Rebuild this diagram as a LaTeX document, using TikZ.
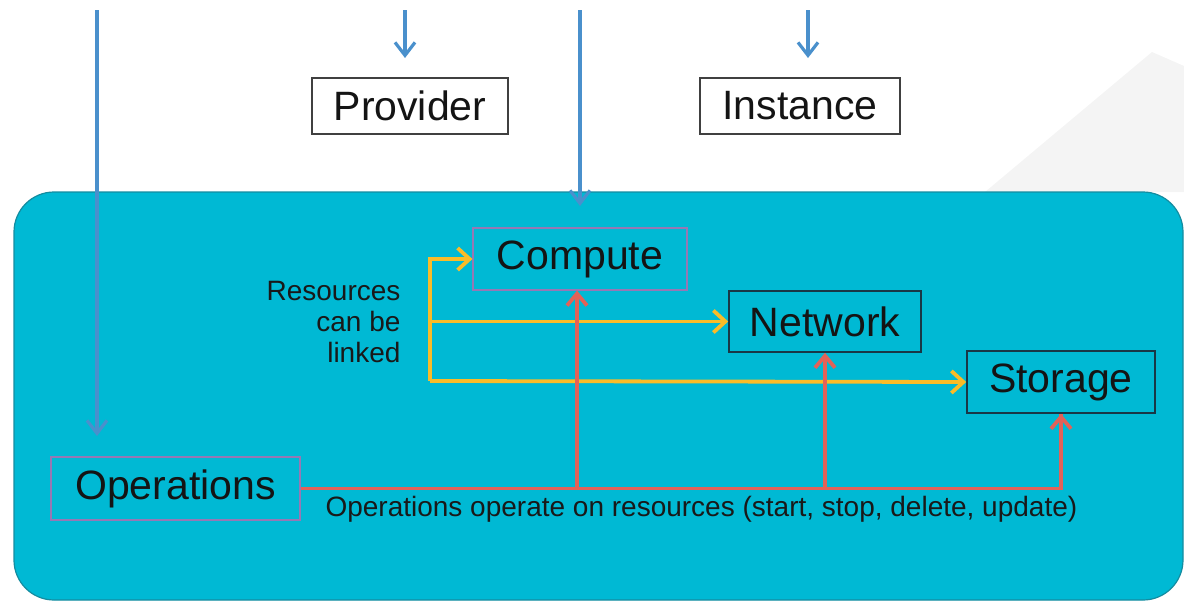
\documentclass[tikz,border=0pt]{standalone}
\usepackage{fontspec}
\setmainfont{Liberation Sans}
\usetikzlibrary{arrows.meta}
\definecolor{panel}{RGB}{0,185,212}
\definecolor{panelrim}{RGB}{20,140,160}
\definecolor{flowblue}{RGB}{74,144,204}
\definecolor{linkyellow}{RGB}{250,188,40}
\definecolor{opred}{RGB}{226,98,88}
\definecolor{softpurple}{RGB}{150,120,180}
\definecolor{deeprim}{RGB}{25,55,70}
\definecolor{haze}{RGB}{244,244,244}
\tikzset{
  bigtext/.style={font=\fontsize{41}{48}\selectfont, text=black!92},
  smalltext/.style={font=\fontsize{28}{31}\selectfont, text=black!90},
  topbox/.style={bigtext, draw=black!75, fill=white, line width=1.6pt, inner sep=0pt},
  softbox/.style={bigtext, draw=softpurple, line width=1.2pt, inner sep=0pt},
  darkbox/.style={bigtext, draw=deeprim, line width=1.6pt, inner sep=0pt},
  bluearrow/.style={draw=flowblue, line width=3.2pt, -{Straight Barb[length=13pt,width=20pt,line width=3.2pt]}},
  yellowarrow/.style={draw=linkyellow, line width=3.8pt, -{Straight Barb[length=12pt,width=22pt,line width=3.8pt]}},
  redarrow/.style={draw=opred, line width=3.8pt, -{Straight Barb[length=12pt,width=20pt,line width=3.8pt]}},
  redline/.style={draw=opred, line width=3.8pt},
}
\begin{document}
\begin{tikzpicture}[x=1pt,y=-1pt]
\useasboundingbox (0,0) rectangle (1184,603);
% faint background shape at the upper right
\fill[haze] (985,192) -- (1152,52) -- (1184,66) -- (1184,192) -- cycle;
% main panel
\draw[fill=panel, draw=panelrim, line width=1.2pt, rounded corners=40pt]
  (14,192) rectangle (1183,600);

% boxes
\node[topbox, minimum width=196pt, minimum height=56pt] (prov) at (410,106) {Provider};
\node[topbox, minimum width=200pt, minimum height=56pt] (inst) at (800,106) {Instance};
\node[softbox, minimum width=214pt, minimum height=62pt] (comp) at (580,259) {Compute};
\node[darkbox, minimum width=192pt, minimum height=61pt] (net) at (825,321.5) {Network};
\node[darkbox, minimum width=188pt, minimum height=62pt] (stor) at (1061,382) {Storage};
\node[softbox, minimum width=249pt, minimum height=63pt] (ops) at (175.5,488.5) {Operations};

% labels
\node[smalltext, align=right, anchor=east] (linklbl) at (404,322) {Resources\\can be\\linked};
\node[smalltext, anchor=west] (oplbl) at (322,509) {Operations operate on resources (start, stop, delete, update)};

% incoming flows from above
\coordinate (opsin) at (97,10);
\coordinate (opsend) at (97,436);
\coordinate (provin) at (405,10);
\coordinate (provend) at (405,58);
\coordinate (compin) at (580,10);
\coordinate (compend) at (580,206);
\coordinate (instin) at (808,10);
\coordinate (instend) at (808,58);
\draw[bluearrow] (opsin) -- (opsend);
\draw[bluearrow] (provin) -- (provend);
\draw[bluearrow] (compin) -- (compend);
\draw[bluearrow] (instin) -- (instend);

% resource links
\coordinate (trunk) at (430,381);
\draw[yellowarrow] (trunk) |- (comp.west);
\draw[yellowarrow] (trunk |- net.west) -- (net.west);
\draw[yellowarrow] (trunk) -- (stor.west);

% operations acting on resources
\draw[redline] (ops.east) -| (stor.south);
\draw[redarrow] (stor.south |- ops.east) -- (stor.south);
\draw[redarrow] ([xshift=-3pt]comp.south |- ops.east) -- ([xshift=-3pt]comp.south);
\draw[redarrow] (net.south |- ops.east) -- (net.south);
\end{tikzpicture}
\end{document}
